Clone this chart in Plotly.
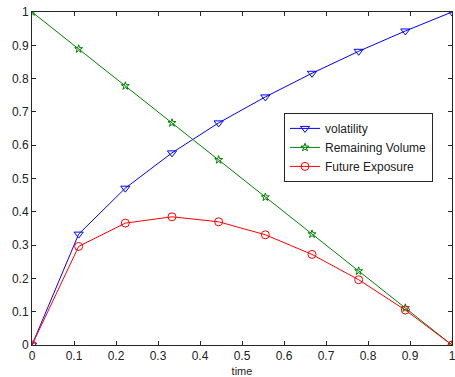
import plotly.graph_objects as go

time = [0, 0.1111, 0.2222, 0.3333, 0.4444, 0.5556, 0.6667, 0.7778, 0.8889, 1.0]
volatility = [0, 0.333, 0.471, 0.577, 0.667, 0.745, 0.816, 0.882, 0.943, 1.0]
remaining_volume = [1.0, 0.889, 0.778, 0.667, 0.556, 0.444, 0.333, 0.222, 0.111, 0]
future_exposure = [0, 0.296, 0.366, 0.385, 0.370, 0.331, 0.272, 0.196, 0.105, 0]
ticks = [0, 0.1, 0.2, 0.3, 0.4, 0.5, 0.6, 0.7, 0.8, 0.9, 1]
tick_text = ["0", "0.1", "0.2", "0.3", "0.4", "0.5", "0.6", "0.7", "0.8", "0.9", "1"]

FONT = "Liberation Sans, Arial"

fig = go.Figure()
fig.add_trace(go.Scatter(x=time, y=volatility, name="volatility", mode="lines+markers",
                         line=dict(color="#0000ff", width=1),
                         marker=dict(symbol="triangle-down-open", size=8, color="#0000ff", line=dict(width=1))))
fig.add_trace(go.Scatter(x=time, y=remaining_volume, name="Remaining Volume", mode="lines+markers",
                         line=dict(color="#008000", width=1),
                         marker=dict(symbol="star-open", size=6, color="#008000", line=dict(width=1))))
fig.add_trace(go.Scatter(x=time, y=future_exposure, name="Future Exposure", mode="lines+markers",
                         line=dict(color="#ff0000", width=1),
                         marker=dict(symbol="circle-open", size=8, color="#ff0000", line=dict(width=1))))

axis_common = dict(range=[0, 1], tickvals=ticks, ticktext=tick_text, showgrid=False, zeroline=False,
                   showline=True, linecolor="#262626", linewidth=1, mirror="ticks", ticks="inside",
                   ticklen=4, tickcolor="#262626", tickfont=dict(family=FONT, size=12, color="#222"),
                   automargin=False)
fig.update_xaxes(**axis_common, ticklabeloverflow="allow",
                 title=dict(text="time", font=dict(family=FONT, size=11, color="#222"), standoff=4))
fig.update_yaxes(**axis_common)

fig.update_layout(width=455, height=377, margin=dict(l=32, r=3, t=12, b=32),
                  plot_bgcolor="white", paper_bgcolor="white",
                  font=dict(family=FONT, size=12, color="#222"),
                  legend=dict(x=0.6, y=0.697, xanchor="left", yanchor="top", bgcolor="white",
                              bordercolor="#262626", borderwidth=1, tracegroupgap=0,
                              font=dict(size=12), itemwidth=30))
fig.write_html("out.html", config={"displayModeBar": False},
               post_script="document.body.style.margin='0';document.body.style.overflow='hidden';")
